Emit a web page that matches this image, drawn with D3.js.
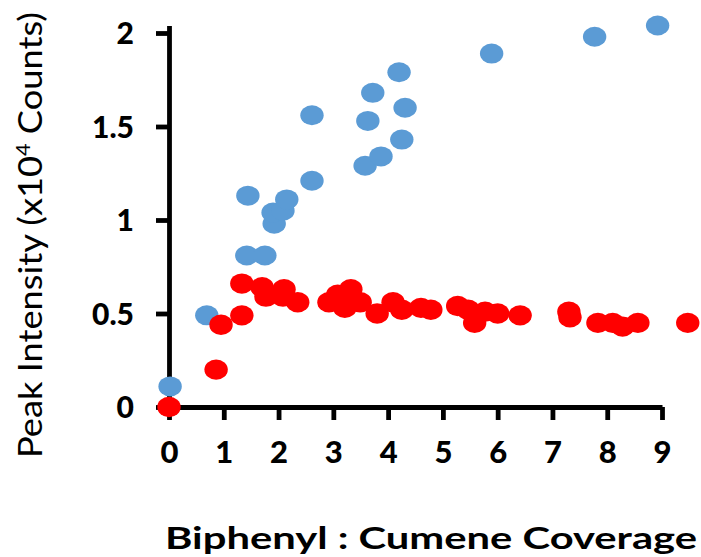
<!DOCTYPE html>
<html>
<head>
<meta charset="utf-8">
<script src="https://cdn.jsdelivr.net/npm/d3@7"></script>
<style>
  html, body { margin: 0; padding: 0; background: #fff; }
  svg { display: block; }
  text { font-family: Lato, "Open Sans", sans-serif; font-weight: bold; fill: #000; }
</style>
</head>
<body>
<svg id="chart" width="701" height="557"></svg>
<script>
// ---- data ----
const blueX = [0.02, 0.69, 1.44, 1.42, 1.75, 1.92, 1.90, 2.08, 2.15, 2.61, 2.61, 3.58, 3.63, 3.72, 3.87, 4.20, 4.25, 4.31, 5.89, 7.77, 8.92];
const blueY = [0.11, 0.49, 1.13, 0.81, 0.81, 0.98, 1.04, 1.05, 1.11, 1.56, 1.21, 1.29, 1.53, 1.68, 1.34, 1.79, 1.43, 1.60, 1.89, 1.98, 2.04];
const redX = [0.00, 0.86, 0.95, 1.33, 1.33, 1.70, 1.77, 2.10, 2.08, 2.35, 2.92, 3.08, 3.32, 3.21, 3.49, 3.80, 4.09, 4.25, 4.60, 4.78, 5.27, 5.46, 5.58, 5.77, 6.00, 6.41, 7.30, 7.32, 7.83, 8.10, 8.28, 8.56, 9.47];
const redY = [0.00, 0.20, 0.44, 0.49, 0.66, 0.64, 0.59, 0.63, 0.59, 0.56, 0.56, 0.60, 0.63, 0.53, 0.56, 0.50, 0.56, 0.52, 0.53, 0.52, 0.54, 0.52, 0.45, 0.51, 0.50, 0.49, 0.51, 0.48, 0.45, 0.45, 0.43, 0.45, 0.45];
const xTicks = [0, 1, 2, 3, 4, 5, 6, 7, 8, 9];
const yTicks = [0, 0.5, 1, 1.5, 2];
const xTitle = "Biphenyl : Cumene Coverage";
const yTitleMain = "Peak Intensity (x10";
const yTitleSup = "4";
const yTitleEnd = " Counts)";
const blueColor = "#5B9BD5";
const redColor = "#FF0000";

// ---- layout ----
const svg = d3.select("#chart");
const x = d3.scaleLinear().domain([0, 9]).range([169, 662]);
const y = d3.scaleLinear().domain([0, 2.04]).range([407, 407 - 2.04 * 187]);

// axes
const xAxis = d3.axisBottom(x).tickValues(xTicks).tickFormat(d3.format("d"))
  .tickSizeInner(13).tickSizeOuter(0).tickPadding(21);
const yAxis = d3.axisLeft(y).tickValues(yTicks).tickFormat(d => d === 0 ? "0" : String(d))
  .tickSizeInner(13).tickSizeOuter(0).tickPadding(22);

const gx = svg.append("g").attr("transform", "translate(0,407)").call(xAxis);
const gy = svg.append("g").attr("transform", "translate(169,0)").call(yAxis);

[gx, gy].forEach(g => {
  g.select(".domain").attr("stroke", "#000").attr("stroke-width", 4.8);
  g.selectAll(".tick line").attr("stroke", "#000").attr("stroke-width", 4.8);
  g.selectAll(".tick text").attr("fill", "#000")
    .style("font-family", "Lato, 'Open Sans', sans-serif")
    .style("font-weight", "900");
});
gx.selectAll(".tick text").attr("dy", "0.71em").style("font-size", "31px");
gy.selectAll(".tick text").attr("dy", "0.36em").style("font-size", "30px");

// points
const blue = blueX.map((v, i) => ({x: v, y: blueY[i]}));
const red = redX.map((v, i) => ({x: v, y: redY[i]}));

svg.append("g").selectAll("ellipse").data(blue).join("ellipse")
  .attr("cx", d => x(d.x)).attr("cy", d => y(d.y))
  .attr("rx", 11.7).attr("ry", 10).attr("fill", blueColor);

svg.append("g").selectAll("ellipse").data(red).join("ellipse")
  .attr("cx", d => x(d.x)).attr("cy", d => y(d.y))
  .attr("rx", 11.7).attr("ry", 10.2).attr("fill", redColor);

// titles
svg.append("text")
  .attr("x", 165).attr("y", 549)
  .attr("textLength", 532).attr("lengthAdjust", "spacingAndGlyphs")
  .style("font-size", "31px")
  .text(xTitle);

const yt = svg.append("text")
  .attr("transform", "translate(42,458) rotate(-90)")
  .attr("x", 0).attr("y", 0)
  .attr("textLength", 446).attr("lengthAdjust", "spacingAndGlyphs")
  .style("font-size", "32px")
  .style("font-weight", "normal");
yt.append("tspan").text(yTitleMain);
yt.append("tspan").attr("dy", -12).style("font-size", "19px").text(yTitleSup);
yt.append("tspan").attr("dy", 12).text(yTitleEnd);
</script>
</body>
</html>
